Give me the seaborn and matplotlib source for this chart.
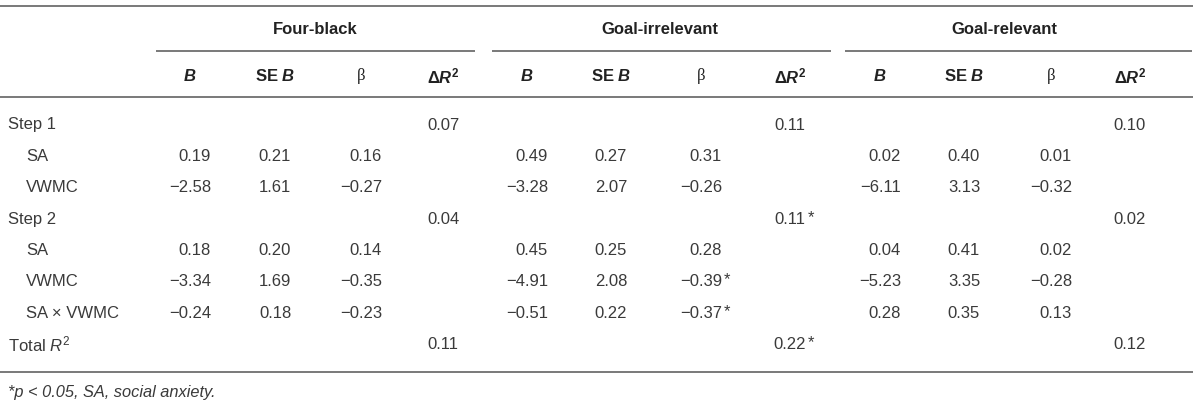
import numpy as np
import matplotlib
matplotlib.use("Agg")
import matplotlib.pyplot as plt
import seaborn as sns

# ---------------- data ----------------
groups = ["Four-black", "Goal-irrelevant", "Goal-relevant"]
row_labels = ["Step 1", "SA", "VWMC", "Step 2", "SA", "VWMC", "SA × VWMC", "Total R2"]
row_indent = [False, True, True, False, True, True, True, False]

nan = np.nan
# Four-black
fb_B    = [nan, 0.19, -2.58, nan, 0.18, -3.34, -0.24, nan]
fb_SE   = [nan, 0.21, 1.61, nan, 0.20, 1.69, 0.18, nan]
fb_beta = [nan, 0.16, -0.27, nan, 0.14, -0.35, -0.23, nan]
fb_dR2  = [0.07, nan, nan, 0.04, nan, nan, nan, 0.11]
# Goal-irrelevant
gi_B    = [nan, 0.49, -3.28, nan, 0.45, -4.91, -0.51, nan]
gi_SE   = [nan, 0.27, 2.07, nan, 0.25, 2.08, 0.22, nan]
gi_beta = [nan, 0.31, -0.26, nan, 0.28, -0.39, -0.37, nan]
gi_dR2  = [0.11, nan, nan, 0.11, nan, nan, nan, 0.22]
gi_beta_sig = [False, False, False, False, False, True, True, False]
gi_dR2_sig  = [False, False, False, True, False, False, False, True]
# Goal-relevant
gr_B    = [nan, 0.02, -6.11, nan, 0.04, -5.23, 0.28, nan]
gr_SE   = [nan, 0.40, 3.13, nan, 0.41, 3.35, 0.35, nan]
gr_beta = [nan, 0.01, -0.32, nan, 0.02, -0.28, 0.13, nan]
gr_dR2  = [0.10, nan, nan, 0.02, nan, nan, nan, 0.12]

no_sig = [False] * 8
table = [
    [(fb_B, no_sig), (fb_SE, no_sig), (fb_beta, no_sig), (fb_dR2, no_sig)],
    [(gi_B, no_sig), (gi_SE, no_sig), (gi_beta, gi_beta_sig), (gi_dR2, gi_dR2_sig)],
    [(gr_B, no_sig), (gr_SE, no_sig), (gr_beta, no_sig), (gr_dR2, no_sig)],
]
footnote = "*p < 0.05, SA, social anxiety."

# ---------------- layout ----------------
sns.set_theme(style="white")
plt.rcParams["font.family"] = ["Liberation Sans", "DejaVu Sans"]
plt.rcParams["mathtext.fontset"] = "custom"
plt.rcParams["mathtext.rm"] = "Liberation Sans"
plt.rcParams["mathtext.it"] = "Liberation Sans:italic"
plt.rcParams["mathtext.bf"] = "Liberation Sans:bold"
plt.rcParams["mathtext.bfit"] = "Liberation Sans:bold:italic"

W, H = 1200, 408
fig = plt.figure(figsize=(W / 100, H / 100), dpi=100)
ax = fig.add_axes([0, 0, 1, 1])
ax.set_xlim(0, W)
ax.set_ylim(H, 0)
ax.axis("off")

txt_col = "#3a3a3a"
hdr_col = "#222222"
line_col = "#555555"
fs = 12
hfs = 12

group_centers = [315, 660, 1004]
group_lines = [(156, 475), (492, 831), (845, 1192)]
col_centers = [[190, 275, 361, 443], [527, 611, 701, 790], [880, 964, 1051, 1130]]
right_offset = 21  # B and beta right-aligned

y_top, y_grp, y_under, y_colhdr, y_hdrbot, y_bot, y_foot = 6, 30, 51, 76, 97, 372, 392
row_y0, row_dy = 125, 31.4

ax.hlines([y_top, y_hdrbot, y_bot], 0, 1193, color=line_col, lw=1.1)
for (a, b) in group_lines:
    ax.hlines(y_under, a, b, color=line_col, lw=1.1)

for gname, gc in zip(groups, group_centers):
    ax.text(gc, y_grp, gname, ha="center", va="center", fontsize=hfs, fontweight="bold", color=hdr_col)

hdrs = [r"$\mathbfit{B}$", r"$\mathbf{SE}\ \mathbfit{B}$", "β", r"$\mathbf{\Delta}\mathbfit{R}^{\mathbf{2}}$"]
for g in range(3):
    for c, h in enumerate(hdrs):
        kw = dict(ha="center", va="center", fontsize=hfs, color=hdr_col)
        if h == "β":
            kw["family"] = ["Liberation Serif"]
        ax.text(col_centers[g][c], y_colhdr, h, **kw)

def fmt(v):
    return f"{v:.2f}".replace("-", "−")

for i, lab in enumerate(row_labels):
    y = row_y0 + i * row_dy
    x = 26 if row_indent[i] else 8
    label = r"Total $\mathit{R}^{2}$" if lab == "Total R2" else lab
    ax.text(x, y, label, ha="left", va="center", fontsize=fs, color=txt_col)
    for g in range(3):
        for c, (vals, sig) in enumerate(table[g]):
            v = vals[i]
            if np.isnan(v):
                continue
            s = fmt(v)
            cx = col_centers[g][c]
            if c in (0, 2):
                xr = cx + right_offset
                ax.text(xr, y, s, ha="right", va="center", fontsize=fs, color=txt_col)
            else:
                xr = cx + 16
                ax.text(cx, y, s, ha="center", va="center", fontsize=fs, color=txt_col)
            if sig[i]:
                ax.text(xr + 2, y - 2, "*", ha="left", va="center", fontsize=fs, color=txt_col)

ax.text(8, y_foot, footnote, ha="left", va="center", fontsize=11.8, color=txt_col, fontstyle="italic")

fig.savefig("out.png", dpi=100)
